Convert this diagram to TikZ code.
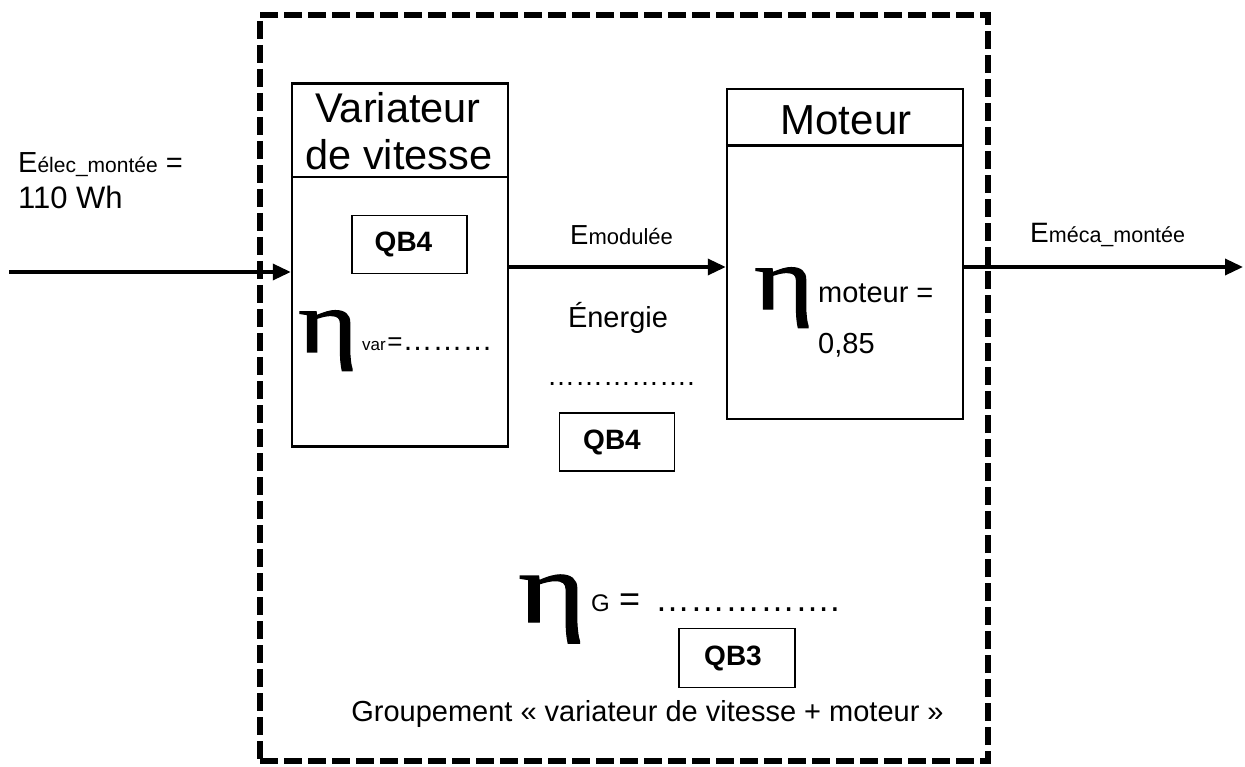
\documentclass[tikz,border=0pt]{standalone}
\usepackage{fontspec}
\setmainfont{Liberation Sans}
\newfontfamily\etafont[FakeBold=1.3,FakeStretch=1.3]{Liberation Serif}
\usetikzlibrary{arrows.meta}
\newcommand{\fs}[1]{\fontsize{#1}{#1}\selectfont}
\begin{document}
\begin{tikzpicture}[x=1pt,y=-1pt,
  box/.style={draw, line width=2.5pt, inner sep=0pt},
  qb/.style={draw, line width=1.3pt, inner sep=0pt, font=\bfseries\fs{28}},
  flow/.style={line width=3.5pt, -{Triangle[length=18pt,width=16pt]}},
  txt/.style={inner sep=0pt, anchor=base west},
  ctxt/.style={inner sep=0pt, anchor=base},
  eta/.style={inner sep=0pt, anchor=base west, font=\etafont\fs{#1}},
  ]
\useasboundingbox (0,0) rectangle (1245,767);
\fill[white] (0,0) rectangle (1245,767);
% group frame
\node[draw, dash pattern=on 18pt off 6pt, line width=6pt, minimum width=728pt, minimum height=746pt, inner sep=0pt] (grp) at (624,388) {};
% variateur
\node[box, minimum width=216pt, minimum height=363pt] (var) at (400,265) {};
\draw[line width=2.5pt] ([yshift=-95pt]var.north west) -- ([yshift=-95pt]var.north east);
\node[ctxt, font=\fs{41.5}] (vt1) at (398,123) {Variateur};
\node[ctxt, font=\fs{41.5}] (vt2) at (399,170) {de vitesse};
\node[qb, minimum width=115pt, minimum height=58pt] (qa) at (409.5,244.5) {QB4\hspace*{12pt}};
\node[eta=88] (ev) at (298,352) {η};
\node[txt] (evs) at (362,351) {{\fs{17}var}\,{\fs{26}=}{\fs{30}………}};
% moteur
\node[box, minimum width=236pt, minimum height=330pt] (mot) at (845,254) {};
\draw[line width=2.5pt] ([yshift=-58pt]mot.north west) -- ([yshift=-58pt]mot.north east);
\node[ctxt, font=\fs{42}] (mt) at (846,135) {Moteur};
\node[eta=88] (em) at (754,309) {η};
\node[txt, font=\fs{29}] (em1) at (818,303) {moteur =};
\node[txt, font=\fs{29}] (em2) at (818,353) {0,85};
% flows
\coordinate (inS) at (9,272);
\coordinate (ym) at (0,267);
\coordinate (outE) at (1243,267);
\draw[flow] (inS) -- (inS -| var.west);
\draw[flow] (var.east |- ym) -- (mot.west |- ym);
\draw[flow] (outE -| mot.east) -- (outE);
% labels
\node[txt] (lin1) at (18,173) {{\fs{29}E}{\fs{21}élec\_montée}{\fs{29} =}};
\node[txt, font=\fs{31}] (lin2) at (18,209) {110 Wh};
\node[txt] (lmod) at (570,245) {{\fs{27.5}E}{\fs{22}modulée}};
\node[txt] (lout) at (1030,243) {{\fs{28}E}{\fs{21.5}méca\_montée}};
\node[ctxt, font=\fs{29}] (ener) at (618,327) {Énergie};
\node[txt, font=\fs{28}] (dots1) at (547,385) {…………….};
\node[qb, minimum width=115pt, minimum height=58pt] (qbb) at (617,442) {QB4\hspace*{10pt}};
% global efficiency
\node[eta=100] (eg) at (518,622) {η};
\node[txt, font=\fs{24}] (egG) at (591,611) {G};
\node[txt, font=\fs{36}] (egE) at (619,611) {=};
\node[txt, font=\fs{35}] (egD) at (655,611) {…………….};
\node[qb, minimum width=116pt, minimum height=59pt] (qc) at (737,658) {QB3\hspace*{8pt}};
\node[ctxt, font=\fs{29}] (grpl) at (647.5,721) {Groupement « variateur de vitesse + moteur »};
\end{tikzpicture}
\end{document}
